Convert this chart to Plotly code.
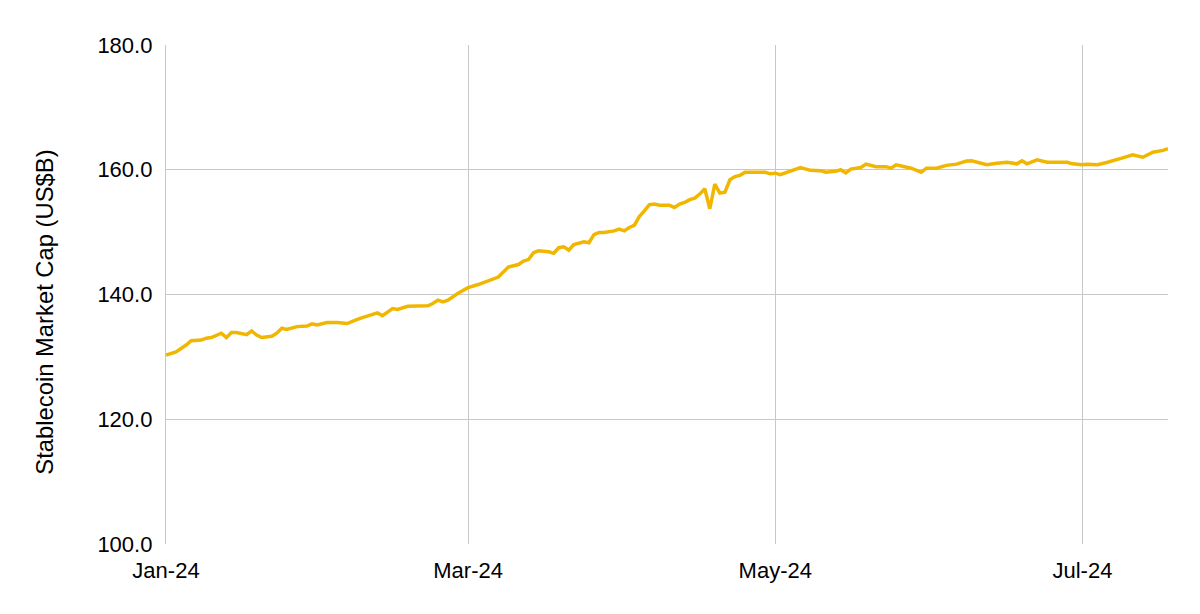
import datetime as dt
import plotly.graph_objects as go

# Day offsets from 2024-01-01 and stablecoin market cap (US$B)
day_offsets = [0, 2, 4, 5, 7, 8, 9, 11, 12, 13, 14, 16, 17, 18, 19, 21, 22, 23, 24, 26,
               28, 29, 30, 32, 34, 36, 38, 39, 42, 43, 45, 46, 48, 52, 53, 54, 55, 56, 58, 60,
               62, 63, 65, 66, 67, 68, 70, 71, 72, 73, 74, 76, 77, 78, 79, 80, 81, 82, 83, 84,
               85, 86, 87, 89, 90, 91, 92, 93, 94, 95, 96, 97, 98, 100, 101, 102, 103, 104, 105, 106,
               107, 108, 109, 110, 111, 112, 113, 114, 115, 116, 118, 119, 120, 121, 122, 123, 124, 126, 128, 130,
               131, 133, 134, 135, 136, 138, 139, 141, 143, 144, 145, 147, 148, 150, 151, 153, 155, 157, 159, 160,
               163, 165, 167, 169, 170, 171, 173, 175, 179, 180, 182, 183, 185, 187, 189, 190, 192, 194, 196, 198,
               199]
market_cap = [130.3, 130.8, 131.9, 132.6, 132.7, 133.0, 133.1, 133.8, 133.1, 133.9, 133.9, 133.55, 134.15, 133.5, 133.1, 133.3, 133.8, 134.6, 134.4, 134.85,
              134.95, 135.3, 135.1, 135.5, 135.5, 135.35, 136.0, 136.3, 137.05, 136.6, 137.75, 137.6, 138.1, 138.2, 138.55, 139.1, 138.8, 139.1, 140.2, 141.1,
              141.6, 141.9, 142.4, 142.8, 143.6, 144.4, 144.8, 145.35, 145.6, 146.7, 147.0, 146.85, 146.6, 147.5, 147.65, 147.1, 148.0, 148.2, 148.45, 148.3,
              149.6, 149.95, 149.95, 150.2, 150.5, 150.2, 150.75, 151.1, 152.5, 153.4, 154.4, 154.5, 154.3, 154.3, 153.95, 154.5, 154.75, 155.2, 155.45, 156.1,
              156.95, 153.75, 157.7, 156.25, 156.4, 158.4, 158.9, 159.1, 159.6, 159.6, 159.6, 159.6, 159.35, 159.45, 159.2, 159.5, 159.85, 160.35, 159.9, 159.85,
              159.6, 159.75, 160.0, 159.5, 160.1, 160.35, 160.9, 160.5, 160.5, 160.25, 160.8, 160.5, 160.25, 159.6, 160.25, 160.25, 160.7, 160.9, 161.4, 161.45,
              160.8, 161.05, 161.2, 160.95, 161.45, 160.95, 161.6, 161.2, 161.2, 160.95, 160.8, 160.9, 160.8, 161.2, 161.75, 161.9, 162.4, 162.0, 162.8, 163.1,
              163.4]

y_ticks = [100, 120, 140, 160, 180]
y_title = "Stablecoin Market Cap (US$B)"

start = dt.date(2024, 1, 1)
dates = [start + dt.timedelta(days=d) for d in day_offsets]

font_family = "Liberation Sans, Arial, sans-serif"
grid = "#C8C8C8"

fig = go.Figure()
fig.add_trace(go.Scatter(
    x=dates, y=market_cap, mode="lines",
    line=dict(color="#F1B600", width=3.5),
    showlegend=False,
))

fig.update_layout(
    width=1200, height=614,
    margin=dict(l=158, r=40, t=37, b=78),
    paper_bgcolor="white", plot_bgcolor="white",
    font=dict(family=font_family, size=22, color="#000000"),
    annotations=[dict(
        text=y_title, xref="paper", yref="paper",
        x=-0.121, y=0.465, xanchor="center", yanchor="middle",
        textangle=-90, showarrow=False,
        font=dict(size=23.8, color="#000000"),
    )],
)
fig.update_xaxes(
    range=[dates[0], dates[-1]],
    tickformat="%b-%y", dtick="M2", tick0="2024-01-01",
    showgrid=True, gridcolor=grid, gridwidth=1.3,
    showline=False, zeroline=False,
    ticks="outside", ticklen=7, tickcolor="rgba(0,0,0,0)",
    tickfont=dict(size=22, color="#000000"),
)
fig.update_yaxes(
    range=[100, 180], tickvals=y_ticks, tickformat=".1f",
    showgrid=True, gridcolor=grid, gridwidth=1.3,
    showline=True, linecolor=grid, linewidth=1.3,
    zeroline=False,
    ticks="outside", ticklen=8, tickcolor="rgba(0,0,0,0)",
    tickfont=dict(size=22, color="#000000"),
)

fig.write_html("out.html")
